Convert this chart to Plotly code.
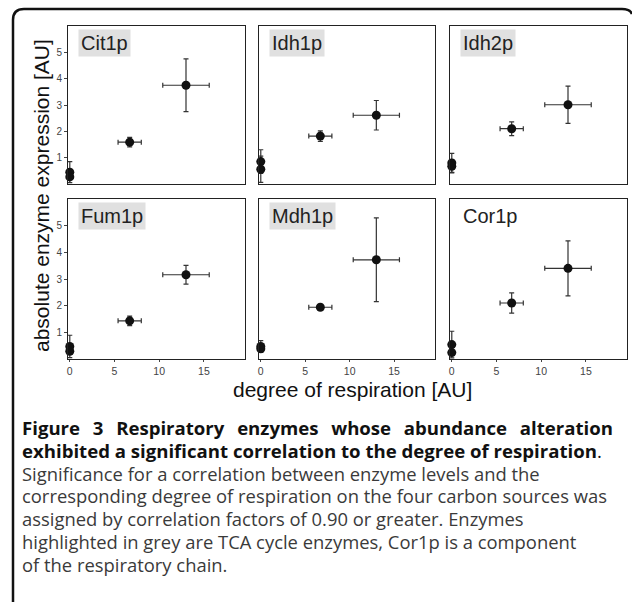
import plotly.graph_objects as go

W, H = 632, 602

# ---- data ----
respiration = [0, 0, 6.7, 13.0]
respiration_err = [0, 0, 1.3, 2.6]

enzymes = ["Cit1p", "Idh1p", "Idh2p", "Fum1p", "Mdh1p", "Cor1p"]
tca_highlight = [True, True, True, True, True, False]

cit1p = [0.45, 0.27, 1.59, 3.75]
cit1p_err = [0.40, 0.10, 0.18, 1.00]
idh1p = [0.85, 0.56, 1.82, 2.61]
idh1p_err = [0.45, 0.50, 0.20, 0.56]
idh2p = [0.80, 0.67, 2.10, 3.01]
idh2p_err = [0.36, 0.25, 0.26, 0.71]
fum1p = [0.47, 0.29, 1.43, 3.16]
fum1p_err = [0.42, 0.10, 0.18, 0.35]
mdh1p = [0.47, 0.38, 1.94, 3.72]
mdh1p_err = [0.22, 0.10, 0.05, 1.57]
cor1p = [0.54, 0.24, 2.10, 3.40]
cor1p_err = [0.50, 0.10, 0.38, 1.03]

values = [cit1p, idh1p, idh2p, fum1p, mdh1p, cor1p]
errors = [cit1p_err, idh1p_err, idh2p_err, fum1p_err, mdh1p_err, cor1p_err]

x_ticks = [0, 5, 10, 15]
y_ticks = [1, 2, 3, 4, 5]

y_title = "absolute enzyme expression [AU]"
x_title = "degree of respiration [AU]"
caption_bold = ["Figure 3 Respiratory enzymes whose abundance alteration",
                "exhibited a significant correlation to the degree of respiration"]
caption_lines = ["Significance for a correlation between enzyme levels and the",
                 "corresponding degree of respiration on the four carbon sources was",
                 "assigned by correlation factors of 0.90 or greater. Enzymes",
                 "highlighted in grey are TCA cycle enzymes, Cor1p is a component",
                 "of the respiratory chain."]

# ---- layout geometry (pixels) ----
cols = [(68, 245), (259, 435), (450, 627)]
rows = [(26, 184), (199, 359)]

def px(x):
    return x / W

def py(y):
    return 1 - y / H

fig = go.Figure()
layout = dict(
    width=W, height=H,
    margin=dict(l=0, r=0, t=0, b=0),
    paper_bgcolor="white", plot_bgcolor="white",
    showlegend=False,
    font=dict(family="Liberation Sans, Arial", color="#222"),
)
annotations = []
for i, name in enumerate(enzymes):
    r, c = divmod(i, 3)
    n = i + 1
    xa = "x" if n == 1 else f"x{n}"
    ya = "y" if n == 1 else f"y{n}"
    fig.add_trace(go.Scatter(
        x=respiration, y=values[i], mode="markers",
        xaxis=xa, yaxis=ya, cliponaxis=False,
        marker=dict(color="#111", size=9),
        error_x=dict(type="data", array=respiration_err, color="#333",
                     thickness=1.2, width=2.5),
        error_y=dict(type="data", array=errors[i], color="#333",
                     thickness=1.2, width=2.5),
    ))
    xkey = "xaxis" if n == 1 else f"xaxis{n}"
    ykey = "yaxis" if n == 1 else f"yaxis{n}"
    layout[xkey] = dict(
        domain=[px(cols[c][0]), px(cols[c][1])], anchor=ya,
        range=[-0.2, 19.6], showgrid=False, zeroline=False,
        showline=True, linecolor="#222", linewidth=1, mirror=True,
        tickvals=x_ticks if r == 1 else [],
        ticks="outside" if r == 1 else "", ticklen=2, tickcolor="#444",
        showticklabels=(r == 1),
        tickfont=dict(size=10.5, color="#444"),
    )
    layout[ykey] = dict(
        domain=[py(rows[r][1]), py(rows[r][0])], anchor=xa,
        range=[0, 6], showgrid=False, zeroline=False,
        showline=True, linecolor="#222", linewidth=1, mirror=True,
        tickvals=y_ticks if c == 0 else [],
        ticks="outside" if c == 0 else "", ticklen=3, tickcolor="#444",
        showticklabels=(c == 0),
        tickfont=dict(size=10, color="#444"),
    )
    annotations.append(dict(
        text=name, xref="paper", yref="paper",
        x=px(cols[c][0] + 10), y=py(rows[r][0] + 3),
        xanchor="left", yanchor="top", showarrow=False,
        font=dict(size=20, color="#222", family="Liberation Sans, Arial"),
        bgcolor="#e0e0e0" if tca_highlight[i] else "rgba(0,0,0,0)",
        borderpad=2,
    ))

annotations.append(dict(
    text=y_title, xref="paper", yref="paper", x=px(41), y=py(196),
    textangle=-90, showarrow=False, xanchor="center", yanchor="middle",
    font=dict(size=21, color="#111", family="Liberation Sans, Arial")))
annotations.append(dict(
    text=x_title, xref="paper", yref="paper", x=px(352), y=py(389),
    showarrow=False, xanchor="center", yanchor="middle",
    font=dict(size=21, color="#111", family="Liberation Sans, Arial")))

# ---- caption: one block so the lines share plotly's line spacing ----
cap_font = "Open Sans, Noto Sans"
justified_first = ("  \u2009").join(caption_bold[0].split(" "))
bold_part = [f"<b>{justified_first}</b>", f"<b>{caption_bold[1]}</b>."]
bold_part = [f"<span style='color:#111;font-size:18.6px'>{s}</span>" for s in bold_part]
reg_part = [f"<span style='font-size:18.4px'>{s}</span>" for s in caption_lines]
caption_text = "<br>".join(bold_part + reg_part)
annotations.append(dict(
    text=caption_text, xref="paper", yref="paper",
    x=px(21), y=py(495.5), xanchor="left", yanchor="middle", align="left",
    showarrow=False, borderpad=0,
    font=dict(size=17.5, color="#3a3a3a", family=cap_font)))

layout["annotations"] = annotations

frame_path = (f"M {px(13)} {py(602)} L {px(13)} {py(20)} "
              f"Q {px(13)} {py(9)} {px(24)} {py(9)} "
              f"L {px(622)} {py(9)} Q {px(630)} {py(9)} {px(632)} {py(14)}")
layout["shapes"] = [dict(type="path", path=frame_path, xref="paper", yref="paper",
                         line=dict(color="#111", width=2.5))]

fig.update_layout(**layout)
fig.write_html("out.html", config={"displayModeBar": False},
               post_script="document.body.style.margin='0';document.body.style.overflow='hidden';")
